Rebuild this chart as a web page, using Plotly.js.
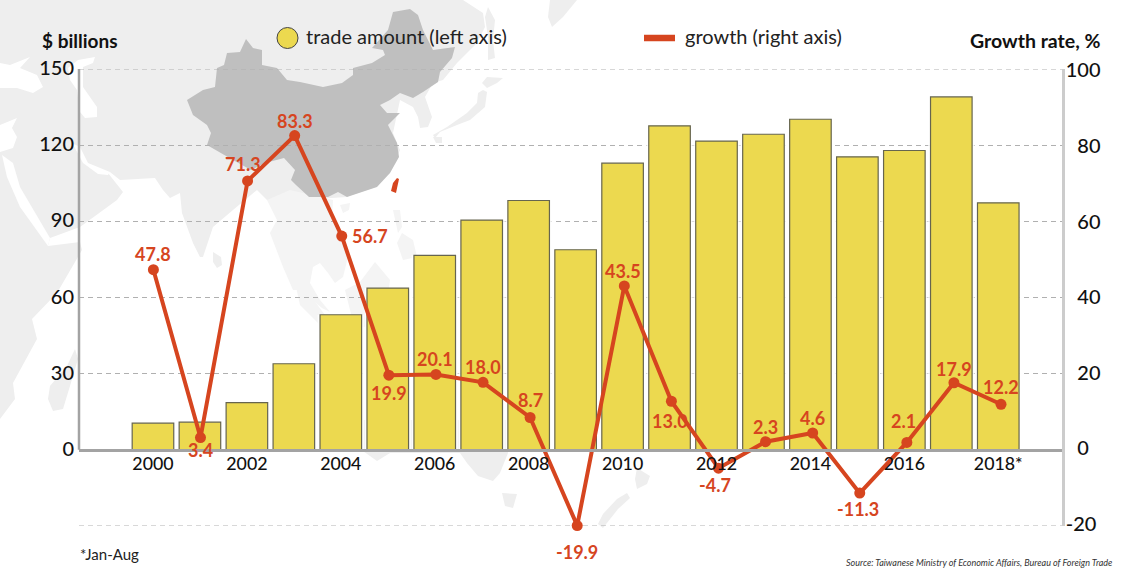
<!DOCTYPE html>
<html><head><meta charset="utf-8">
<script src="https://cdn.plot.ly/plotly-3.0.1.min.js"></script>
<style>html,body{margin:0;padding:0;background:#fff}#c{width:1140px;height:576px}</style>
</head><body><div id="c"></div>
<script>
const years = [2000,2001,2002,2003,2004,2005,2006,2007,2008,2009,2010,2011,2012,2013,2014,2015,2016,2017,2018];
const tradeAmount = [10.5,10.9,18.6,33.9,53.2,63.7,76.6,90.5,98.2,78.8,112.9,127.6,121.6,124.3,130.2,115.4,117.9,139,97.3];
const growthRate = [47.8,3.4,71.3,83.3,56.7,19.9,20.1,18.0,8.7,-19.9,43.5,13.0,-4.7,2.3,4.6,-11.3,2.1,17.9,12.2];
const xTickVals = [2000,2002,2004,2006,2008,2010,2012,2014,2016,2018];
const xTickText = ['2000','2002','2004','2006','2008','2010','2012','2014','2016','2018*'];
const leftTicks = [-30,0,30,60,90,120,150];
const leftTickText = ['','0','30','60','90','120','150'];
const rightTicks = [-20,0,20,40,60,80,100];
const rightTickText = ['-20','\u20070','\u200720','\u200740','\u200760','\u200780','100'];

// label offsets from each point, in pixels (dx, dy with y down)
const labelDx = [0,0,-5,0,28,0,-1,0,0,0,-1,-1,-3,0,0,-2,-3,0,0];
const labelDy = [-16,12,-17,-15,0,18,-15,-15,-18,26,-15,20,17,-15,-15,16,-21,-14,-17];

// background map outlines, page pixels
const landColor = '#eeeeee', paleLand = '#f4f4f4', chinaColor = '#bfbfbf', red = '#D6451F', yellow = '#ECD94F', gridColor = '#b0b0b0';
const mapLand = [
 [[0,0],[463,0],[483,13],[485,27],[477,43],[457,63],[443,80],[433,83],[425,97],[432,117],[428,127],[420,128],[418,117],[413,107],[400,100],[393,133],[400,150],[390,173],[347,197],[300,200],[267,200],[257,190],[233,210],[213,227],[203,257],[200,257],[193,243],[182,213],[180,193],[170,198],[163,190],[155,178],[120,180],[110,172],[108,173],[123,192],[117,200],[80,227],[50,238],[48,246],[80,242],[82,250],[57,293],[32,319],[37,339],[13,383],[15,399],[0,419]],
 [[213,252],[221,257],[222,265],[217,268],[213,262]],
 [[487,77],[503,78],[497,83],[487,88],[482,83]],
 [[483,90],[487,92],[485,107],[470,120],[457,125],[440,132],[435,138],[433,135],[447,127],[467,113],[477,103],[478,93]],
 [[433,137],[442,137],[442,143],[436,143]],
 [[488,7],[495,20],[493,40],[495,58],[488,60],[488,37],[485,17]],
 [[550,0],[577,0],[563,17],[552,27],[548,17]],
 [[75,349],[78,359],[70,386],[63,409],[53,411],[48,399],[50,386],[67,366]],
 [[363,451],[377,461],[390,453],[460,453],[467,463],[478,476],[493,481],[500,473],[508,453],[507,420],[363,420]],
 [[502,493],[517,494],[513,508],[505,506]],
 [[637,468],[650,476],[647,484],[637,489],[635,479]],
 [[627,493],[630,498],[618,509],[603,528],[598,524],[603,514],[617,499]]
];
const mapPale = [
 [[267,200],[290,190],[333,200],[332,217],[343,240],[348,257],[343,277],[335,283],[328,273],[320,263],[313,267],[310,283],[320,300],[330,312],[322,308],[300,290],[293,290],[283,267],[270,233],[277,220]],
 [[340,205],[350,203],[349,210],[343,213]],
 [[393,210],[400,210],[402,227],[398,233]],[[402,233],[413,240],[417,257],[403,260],[397,243]],
 [[296,287],[310,295],[325,315],[330,325],[320,325],[300,305]],
 [[345,290],[360,282],[375,262],[390,280],[385,320],[355,330]]
];
const mapSeas = [
 [[72,143],[80,147],[88,163],[110,172],[108,175],[98,174],[83,163],[75,148]],
 [[2,155],[13,163],[20,187],[50,238],[48,246],[20,207],[7,177]],
 [[0,125],[17,118],[12,128],[17,137],[13,148],[0,152]],
 [[0,63],[10,65],[30,57],[20,68],[37,75],[43,87],[33,93],[17,88],[0,88]],
 [[68,68],[78,60],[95,57],[93,63],[83,67],[83,87],[97,107],[97,117],[85,118],[80,112],[77,90],[70,80]]
];
const mapChina = [[187,100],[203,90],[215,87],[217,68],[224,65],[227,53],[240,52],[246,39],[253,48],[262,50],[262,65],[277,68],[287,80],[300,82],[323,87],[342,83],[353,75],[353,68],[372,63],[385,55],[383,50],[372,48],[388,30],[393,12],[410,9],[418,15],[423,30],[433,50],[455,47],[452,58],[440,72],[438,82],[423,92],[413,98],[400,93],[390,100],[380,105],[387,113],[400,113],[388,125],[397,143],[399,157],[390,173],[377,187],[347,197],[338,192],[328,197],[309,197],[296,185],[291,180],[295,170],[284,158],[265,163],[251,170],[233,160],[207,145],[211,133],[207,125],[193,115]];
const mapTaiwan = [[397,178],[399,179],[396,193],[391,191],[393,183]];

const L=79,R=1062,T=69,B=526;
const px=x=>(x-L)/(R-L), py=y=>(B-y)/(B-T);
const pathOf=p=>'M'+p.map(q=>px(q[0]).toFixed(5)+','+py(q[1]).toFixed(5)).join('L')+'Z';
const poly=(p,c)=>({type:'path',xref:'paper',yref:'paper',path:pathOf(p),fillcolor:c,line:{width:0},layer:'below'});
const edgeGrid=v=>({type:'line',xref:'paper',yref:'y',x0:0,x1:1,y0:v,y1:v,line:{color:gridColor,width:1,dash:'5px,4px'},layer:'below'});

const shapes=[
 ...mapLand.map(p=>poly(p,landColor)),
 ...mapPale.map(p=>poly(p,paleLand)),
 ...mapSeas.map(p=>poly(p,'#ffffff')),
 poly(mapChina,chinaColor),
 poly(mapTaiwan,red),
 edgeGrid(150),edgeGrid(-30),
 {type:'line',xref:'paper',yref:'y',x0:0,x1:0,y0:0,y1:150,line:{color:'#a3a3a3',width:2.5},layer:'above'},
 {type:'circle',xref:'paper',yref:'paper',x0:px(277),x1:px(298),y0:py(48.5),y1:py(27.5),fillcolor:yellow,line:{color:'#444',width:1},layer:'above'},
 {type:'line',xref:'paper',yref:'paper',x0:px(644),x1:px(675),y0:py(38),y1:py(38),line:{color:red,width:6.5},layer:'above'}
];

const txt=(x,y,text,size,anchor,color)=>({xref:'paper',yref:'paper',x:px(x),y:py(y),text,showarrow:false,xanchor:anchor,yanchor:'middle',font:{family:'Lato',size,color:color||'#111'}});
const annotations=[
 txt(303.5,36,'trade amount (left axis)',20,'left','#222'),
 txt(682.5,36,'growth (right axis)',20,'left','#222'),
 txt(40,40.5,'<b>$ billions</b>',19,'left'),
 txt(1101.5,40,'<b>Growth rate, %</b>',19.5,'right'),
 txt(78,554,'*Jan-Aug',15,'left','#222'),
 txt(1114,562,'<i>Source: Taiwanese Ministry of Economic Affairs, Bureau of Foreign Trade</i>',9,'right','#333'),
 ...years.map((y,i)=>({xref:'x2',yref:'y2',x:y,y:growthRate[i],text:'<b>'+growthRate[i].toFixed(1)+'</b>',showarrow:false,xanchor:'center',yanchor:'middle',xshift:labelDx[i],yshift:-labelDy[i],font:{family:'Lato',size:18,color:red}}))
];

const traces=[
 {type:'bar',x:years,y:tradeAmount,width:0.985,marker:{color:'rgba(255,255,255,0.85)',line:{width:0}},xaxis:'x',yaxis:'y',hoverinfo:'skip',showlegend:false},
 {type:'bar',x:years,y:tradeAmount,width:0.885,marker:{color:yellow,line:{color:'#66654f',width:1.2}},xaxis:'x',yaxis:'y',name:'trade amount (left axis)',showlegend:false},
 {type:'scatter',mode:'lines+markers',x:years,y:growthRate,xaxis:'x2',yaxis:'y2',name:'growth (right axis)',cliponaxis:false,line:{color:red,width:4},marker:{color:red,size:11},showlegend:false}
];

const tickFont=size=>({family:'Lato',size,color:'#111',weight:500});
const layout={
 width:1140,height:576,margin:{l:L,r:1140-R,t:T,b:576-B,pad:0},
 paper_bgcolor:'rgba(0,0,0,0)',plot_bgcolor:'rgba(0,0,0,0)',barmode:'overlay',showlegend:false,
 font:{family:'Lato',color:'#111'},
 xaxis:{range:[1998.425,2019.357],tickmode:'array',tickvals:xTickVals,ticktext:xTickText,anchor:'free',position:1/6,showgrid:false,zeroline:false,showline:true,linecolor:'#a3a3a3',linewidth:2.5,ticks:'',tickfont:tickFont(17.8),ticklabelstandoff:-3},
 yaxis:{range:[-30,150],tickmode:'array',tickvals:leftTicks,ticktext:leftTickText,showgrid:true,griddash:'5px,4px',gridcolor:gridColor,gridwidth:1,zeroline:false,showline:false,ticks:'',ticklen:0,tickfont:tickFont(20),ticklabelstandoff:4,ticklabelshift:-1},
 xaxis2:{range:[1998.42,2019.295],overlaying:'x',anchor:'y2',visible:false},
 yaxis2:{range:[-20,100.9],overlaying:'y',side:'right',anchor:'x2',tickmode:'array',tickvals:rightTicks,ticktext:rightTickText,showgrid:false,zeroline:false,showline:true,linecolor:'#cccccc',linewidth:2.5,ticks:'',tickfont:tickFont(20),ticklabelstandoff:-3,ticklabelshift:-2},
 shapes,annotations
};
Plotly.newPlot('c',traces,layout,{displayModeBar:false,responsive:false});
</script></body></html>
